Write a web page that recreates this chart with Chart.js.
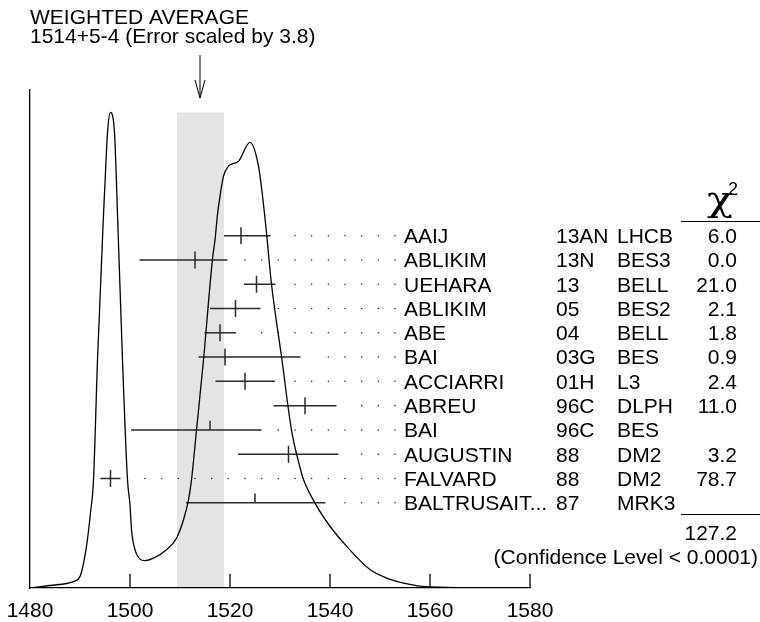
<!DOCTYPE html>
<html><head><meta charset="utf-8">
<script src="https://cdn.jsdelivr.net/npm/chart.js@4"></script>
<style>html,body{margin:0;padding:0;background:#fff}#wrap{width:760px;height:622px;position:relative}</style>
</head><body><div id="wrap"><canvas id="c" width="760" height="622"></canvas></div>
<script>
// ---- data ----
const titleLine1 = 'WEIGHTED AVERAGE';
const titleLine2 = '1514+5-4 (Error scaled by 3.8)';
const wAvg = 1514;
const bandLow = 1509.4;
const bandHigh = 1518.8;
const xTickValues = [1480, 1500, 1520, 1540, 1560, 1580];
const xTickLabels = ['1480', '1500', '1520', '1540', '1560', '1580'];

const names  = ['AAIJ','ABLIKIM','UEHARA','ABLIKIM','ABE','BAI','ACCIARRI','ABREU','BAI','AUGUSTIN','FALVARD','BALTRUSAIT...'];
const years  = ['13AN','13N','13','05','04','03G','01H','96C','96C','88','88','87'];
const expts  = ['LHCB','BES3','BELL','BES2','BELL','BES','L3','DLPH','BES','DM2','DM2','MRK3'];
const chi2   = ['6.0','0.0','21.0','2.1','1.8','0.9','2.4','11.0','','3.2','78.7',''];
const centers= [1522.2,1513.0,1525.3,1521.1,1518.0,1519.0,1523.0,1535.0,1516.0,1531.7,1496.1,1525.0];
const lows   = [1518.8,1501.9,1522.8,1516.0,1514.9,1513.7,1517.1,1528.7,1500.2,1521.6,1494.1,1511.2];
const highs  = [1528.1,1519.5,1529.1,1526.1,1521.2,1534.1,1529.0,1541.3,1526.3,1541.7,1498.1,1539.1];
const chi2Total = '127.2';
const confText = '(Confidence Level < 0.0001)';

// ideogram curve (arbitrary units)
const curveX = [1480,1484,1488.7,1490,1491.3,1492.1,1492.7,1493.5,1494.7,1495,1495.5,1496.1,1496.9,1497.3,1497.5,1498.5,1499.5,1500,1500.3,1501,1502,1503,1504.7,1507.3,1509.3,1510.7,1511.7,1512.3,1513.3,1514.7,1516.5,1517,1517.5,1517.9,1518.7,1519.7,1521.7,1524,1525.7,1526.7,1527.3,1528.3,1530.3,1532.3,1534,1534.7,1537.2,1540,1543.3,1548,1551.3,1554.7,1560,1570,1580];
const curveY = [0,0.5,1.3,2.3,8.4,15.1,21.7,45.8,75.0,81.3,91.4,95.5,91.4,81.3,75.0,45.8,21.7,16.7,11.7,7.7,5.8,5.5,6.0,7.7,10.0,13.7,17.7,21.7,31.7,45.8,66.1,69.9,75.0,78.0,82.7,84.7,85.7,89.5,84.7,77.0,71.3,61.0,46.5,31.7,24.2,21.8,16.7,12.4,8.4,3.7,2.0,1.0,0.2,0.05,0];

// leader dots grid (values)
const dotStart = 1503, dotStep = 10/3, dotCount = 16, dotGap = 3;

// ---- build datasets ----
const FONT = "'Liberation Sans', Arial, Helvetica, sans-serif";
const FS = 21;
const datasets = [];
datasets.push({
  data: curveX.map((x,i)=>({x, y: curveY[i]})),
  showLine: true, borderColor: '#000', borderWidth: 1.3, pointRadius: 0,
  cubicInterpolationMode: 'monotone', yAxisID: 'y'
});
const dots = [];
names.forEach((n,i)=>{
  const used = chi2[i] !== '';
  datasets.push({data:[{x:lows[i],y:i},{x:highs[i],y:i}], showLine:true, borderColor:'#2a2a2a', borderWidth:1.5, pointRadius:0, yAxisID:'yr'});
  datasets.push({data: used ? [{x:centers[i],y:i-0.35},{x:centers[i],y:i+0.35}] : [{x:centers[i],y:i-0.38},{x:centers[i],y:i}],
    showLine:true, borderColor:'#2a2a2a', borderWidth:1.5, pointRadius:0, yAxisID:'yr'});
  for (let k=0;k<dotCount;k++){
    const dx = dotStart + k*dotStep;
    if (dx >= highs[i] + dotGap) dots.push({x:dx, y:i});
  }
});
datasets.push({data:dots, showLine:false, pointRadius:0.8, pointBorderWidth:0, pointBackgroundColor:'#333', yAxisID:'yr'});

const deco = {
  id:'deco',
  beforeDraw(chart){
    const {ctx, chartArea:a, scales:{x,y}} = chart;
    ctx.save();
    ctx.fillStyle = '#fff'; ctx.fillRect(0,0,chart.width,chart.height);
    ctx.fillStyle = '#e4e4e4';
    const top = y.getPixelForValue(Math.max(...curveY));
    const l = x.getPixelForValue(bandLow), r = x.getPixelForValue(bandHigh);
    ctx.fillRect(l, top, r-l, a.bottom - top);
    ctx.restore();
  },
  afterDraw(chart){
    const {ctx, chartArea:a, scales:{x,yr}} = chart;
    ctx.save();
    ctx.strokeStyle = '#000'; ctx.lineWidth = 1.3;
    ctx.fillStyle = '#000';
    ctx.font = FS + 'px ' + FONT;
    // inward ticks + labels
    xTickValues.forEach((v,i)=>{
      const px = x.getPixelForValue(v);
      if (v !== x.min) { ctx.beginPath(); ctx.moveTo(px, a.bottom); ctx.lineTo(px, a.bottom-14); ctx.stroke(); }
      ctx.textAlign = 'center'; ctx.textBaseline = 'middle';
      ctx.fillText(xTickLabels[i], px, a.bottom + 23);
    });
    // arrow
    const ax = x.getPixelForValue(wAvg);
    ctx.lineWidth = 1;
    ctx.beginPath(); ctx.moveTo(ax, a.top-35); ctx.lineTo(ax, a.top+8); ctx.stroke();
    ctx.beginPath(); ctx.moveTo(ax-5, a.top-10); ctx.lineTo(ax, a.top+8); ctx.lineTo(ax+5, a.top-10); ctx.stroke();
    // titles
    ctx.textBaseline = 'middle'; ctx.textAlign = 'left';
    ctx.fillText(titleLine1, 30, 18);
    ctx.fillText(titleLine2, 30, 37);
    // table
    names.forEach((n,i)=>{
      const py = yr.getPixelForValue(i) + 1.5;
      ctx.textAlign = 'left';
      ctx.fillText(n, 404, py);
      ctx.fillText(years[i], 556, py);
      ctx.fillText(expts[i], 617, py);
      ctx.textAlign = 'right';
      ctx.fillText(chi2[i], 737, py);
    });
    // chi2 header
    const hy = Math.round(yr.getPixelForValue(-0.6)) + 0.5;
    ctx.lineWidth = 1.2;
    ctx.beginPath(); ctx.moveTo(681, hy); ctx.lineTo(760, hy); ctx.stroke();
    ctx.textAlign = 'left'; ctx.textBaseline = 'alphabetic';
    ctx.save();
    ctx.translate(707, hy - 11);
    ctx.scale(1.2, 1);
    ctx.font = "36px 'DejaVu Serif', 'Liberation Serif', serif";
    ctx.fillText('\u03C7', 0, 0);
    ctx.restore();
    ctx.font = '18px ' + FONT;
    ctx.fillText('2', 728, hy - 27);
    const ly = Math.round(yr.getPixelForValue(11.45)) + 0.5;
    ctx.beginPath(); ctx.moveTo(681, ly); ctx.lineTo(760, ly); ctx.stroke();
    ctx.font = FS + 'px ' + FONT; ctx.textBaseline = 'middle';
    ctx.textAlign = 'right';
    ctx.fillText(chi2Total, 737, yr.getPixelForValue(12.23) + 1.5);
    ctx.fillText(confText, 758, yr.getPixelForValue(13.22) + 1.5);
    ctx.restore();
  }
};

new Chart(document.getElementById('c'), {
  type:'scatter',
  data:{datasets},
  options:{
    responsive:false, animation:false, devicePixelRatio:1,
    layout:{padding:{left:30, right:230, top:90, bottom:0}},
    plugins:{legend:{display:false}, tooltip:{enabled:false}},
    scales:{
      x:{type:'linear', position:'bottom', min:1480, max:1580,
         afterFit(s){ s.height = 34; },
         ticks:{display:false},
         grid:{display:false}, border:{display:true, color:'#000', width:1.3}},
      y:{type:'linear', position:'left', min:0, max:100,
         afterFit(s){ s.width = 0; },
         ticks:{display:false}, grid:{display:false}, border:{display:true, color:'#000', width:1.3}},
      yr:{type:'linear', position:'right', min:-6, max:14.51, reverse:true, display:false}
    }
  },
  plugins:[deco]
});
</script></body></html>
